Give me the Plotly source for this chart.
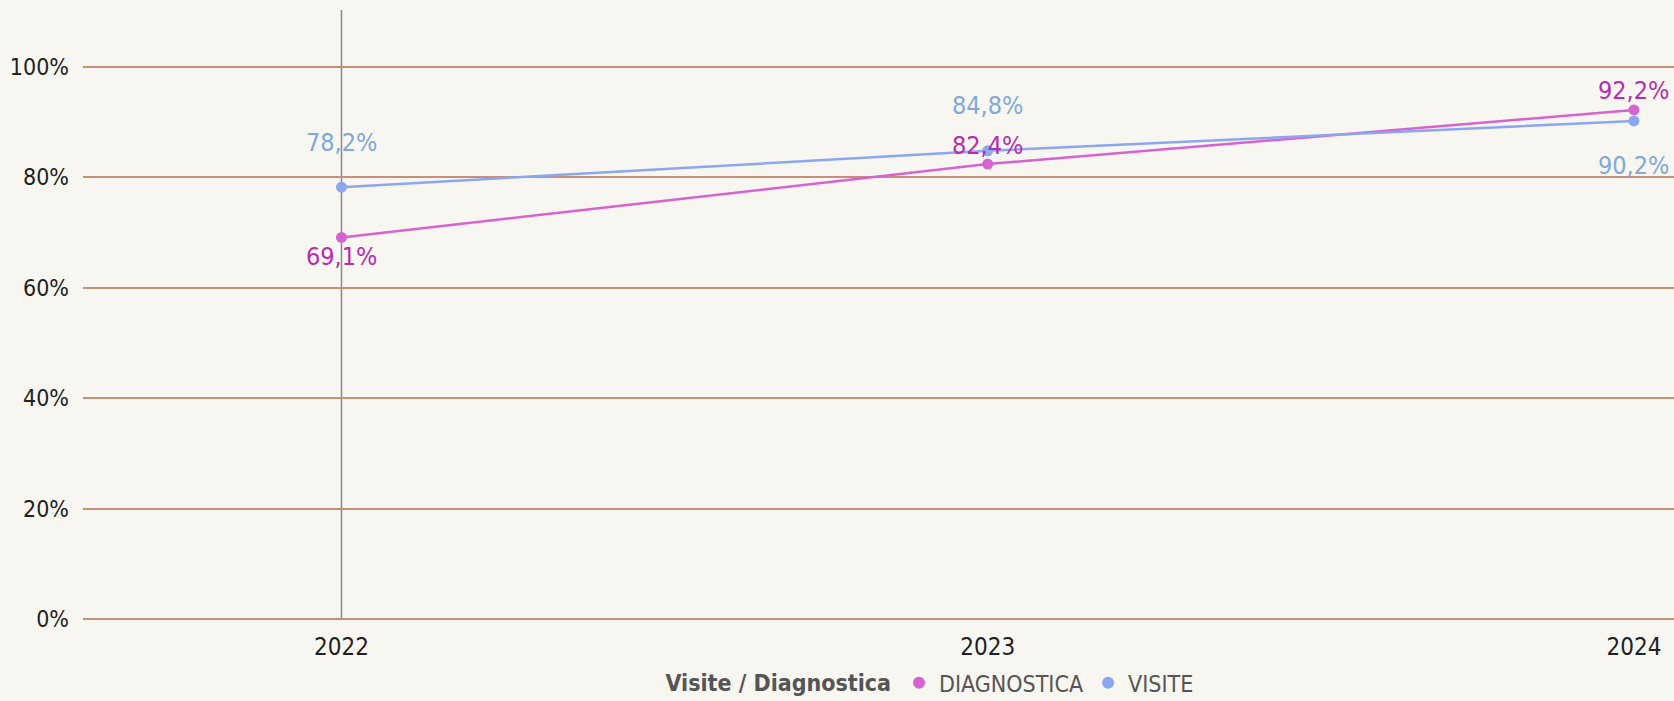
import plotly.graph_objects as go

years = [2022, 2023, 2024]
year_labels = ["2022", "2023", "2024"]
diagnostica = [0.691, 0.824, 0.922]
visite = [0.782, 0.848, 0.902]
y_ticks = [0, 0.2, 0.4, 0.6, 0.8, 1.0]
y_tick_labels = ["0%", "20%", "40%", "60%", "80%", "100%"]

BG = "#F8F6F1"
DIAG_LINE = "#D762D2"
DIAG_TEXT = "#B62DB2"
VIS_LINE = "#8CA6F0"
VIS_TEXT = "#80A9D9"
GRID = "#C78E7A"
FONT = "DejaVu Sans Condensed, Roboto, sans-serif"

def fmt(v):
    return f"{v*100:.1f}%".replace(".", ",")

fig = go.Figure()
series = [("DIAGNOSTICA", diagnostica, DIAG_LINE), ("VISITE", visite, VIS_LINE)]
for name, vals, col in series:
    fig.add_trace(go.Scatter(x=years, y=vals, name=name, mode="lines+markers", showlegend=False,
                             line=dict(color=col, width=2.5), marker=dict(size=11, color=col)))
for name, vals, col in series:
    fig.add_trace(go.Scatter(x=[None], y=[None], name=name, mode="markers",
                             marker=dict(size=13, color=col)))

# label placement (style): +1 above, -1 below; offset in px per series
diag_side = [-1, 1, 1]
vis_side = [1, 1, -1]
for vals, sides, col, off in [(diagnostica, diag_side, DIAG_TEXT, 19), (visite, vis_side, VIS_TEXT, 45)]:
    for x, v, s in zip(years, vals, sides):
        fig.add_annotation(x=x, y=v, text=fmt(v), showarrow=False, yshift=s * off,
                           font=dict(family=FONT, size=25, color=col))

fig.add_shape(type="line", xref="x", yref="paper", x0=years[0], x1=years[0], y0=0, y1=1,
              line=dict(color="#8A8A8A", width=1.5), layer="below")

fig.update_layout(
    width=1674, height=701,
    paper_bgcolor=BG, plot_bgcolor=BG,
    margin=dict(l=83, r=0, t=10, b=82, autoexpand=False),
    showlegend=True,
    legend=dict(orientation="h", x=0.533, xanchor="center", yref="container", y=0.026, yanchor="middle",
                title=dict(text="<b>Visite / Diagnostica</b>", font=dict(family=FONT, size=23, color="#555555")),
                font=dict(family=FONT, size=23, color="#555555"),
                itemsizing="constant", traceorder="normal", itemwidth=30),
    xaxis=dict(range=[years[0] - 0.4, years[-1] + 0.062], tickvals=years, ticktext=year_labels,
               showgrid=False, zeroline=False, showline=False, ticks="",
               tickfont=dict(family=FONT, size=24, color="#222222")),
    yaxis=dict(range=[0, 1.103], tickvals=y_ticks, ticktext=y_tick_labels, showgrid=True,
               gridcolor=GRID, gridwidth=1.5, zeroline=True, zerolinecolor=GRID, zerolinewidth=1.5,
               showline=False, ticks="", tickfont=dict(family=FONT, size=23, color="#222222")),
)
fig.update_yaxes(ticklabelstandoff=13)
fig.update_xaxes(ticklabelstandoff=11)
fig.write_html("out.html", config={"displayModeBar": False},
               post_script="document.body.style.margin='0';")
